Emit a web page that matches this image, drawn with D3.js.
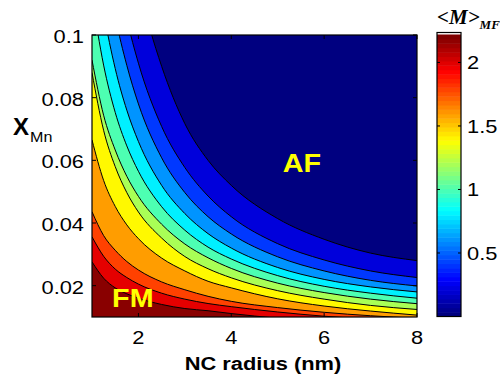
<!DOCTYPE html>
<html><head><meta charset="utf-8">
<script src="https://cdn.jsdelivr.net/npm/d3@7"></script>
<style>body{margin:0;background:#fff}svg{display:block}</style>
</head><body>
<svg id="c" width="500" height="380"></svg>
<script>
// ---- data ----
const radius = [1, 1.25, 1.5, 1.75, 2, 2.5, 3, 3.5, 4, 5, 6, 7, 8];          // NC radius (nm)
const levels = [0.2, 0.4, 0.6, 0.8, 1.0, 1.2, 1.4, 1.6, 1.8, 2.0, 2.2];       // <M>_MF contour levels
// x_Mn position of each contour at the radii above
const c02 = [0.23, 0.184, 0.1533, 0.1314, 0.1155, 0.09, 0.0717, 0.06, 0.052, 0.0414, 0.0348, 0.0304, 0.028];
const c04 = [0.185, 0.148, 0.1233, 0.1051, 0.091, 0.0708, 0.0577, 0.0486, 0.042, 0.0334, 0.0282, 0.0247, 0.0226];
const c06 = [0.16, 0.128, 0.106, 0.0903, 0.078, 0.0608, 0.0497, 0.042, 0.0365, 0.0292, 0.0247, 0.0217, 0.0199];
const c08 = [0.134, 0.1076, 0.0893, 0.076, 0.066, 0.052, 0.043, 0.0366, 0.032, 0.0258, 0.022, 0.0196, 0.018];
const c10 = [0.112, 0.0904, 0.0753, 0.0646, 0.0565, 0.0452, 0.0377, 0.0323, 0.0285, 0.0232, 0.0198, 0.0176, 0.016];
const c12 = [0.092, 0.0744, 0.0633, 0.0549, 0.0485, 0.0396, 0.0333, 0.0289, 0.0255, 0.0208, 0.0178, 0.0157, 0.01425];
const c14 = [0.088, 0.0696, 0.058, 0.0497, 0.0435, 0.0352, 0.0293, 0.0254, 0.0225, 0.0184, 0.0157, 0.0137, 0.0124];
const c16 = [0.0665, 0.0536, 0.0453, 0.0394, 0.035, 0.0288, 0.0247, 0.0214, 0.0193, 0.0158, 0.0135, 0.0119, 0.0106];
const c18 = [0.0436, 0.036, 0.0313, 0.0277, 0.025, 0.0212, 0.0187, 0.0166, 0.015, 0.013, 0.0115, 0.0104, 0.0096];
const c20 = [0.0356, 0.0294, 0.0253, 0.0226, 0.0205, 0.0176, 0.0157, 0.0143, 0.0133, 0.0116, 0.01025, 0.0093, 0.0085];
const c22 = [0.0276, 0.0224, 0.0193, 0.0174, 0.016, 0.014, 0.0127, 0.012, 0.0111, 0.0096, 0.0083, 0.0074, 0.0068];
const contours = [c02, c04, c06, c08, c10, c12, c14, c16, c18, c20, c22];
const xTicks = [2, 4, 6, 8];
const yTicks = [0.02, 0.04, 0.06, 0.08, 0.1];
const yTickLabels = ["0.02", "0.04", "0.06", "0.08", "0.1"];
const cbTicks = [0.5, 1, 1.5, 2];
const cbTickLabels = ["0.5", "1", "1.5", "2"];
const xDomain = [1, 8], yDomain = [0.01, 0.1], cDomain = [0, 2.22];
const regionLabels = [{t: "AF", r: 5.52, x: 0.0591}, {t: "FM", r: 1.88, x: 0.0162}];

// ---- drawing ----
const svg = d3.select("#c");
const L = 92, R = 417, T = 35, B = 317;
const xs = d3.scaleLinear().domain(xDomain).range([L, R]);
const ys = d3.scaleLinear().domain(yDomain).range([B, T]);
const cs = d3.scaleLinear().domain(cDomain).range([316.5, 34.5]);
function jet(t){
  const c = v => Math.max(0, Math.min(1, v));
  return d3.rgb(255*c(Math.min(4*t-1.5, -4*t+4.5)), 255*c(Math.min(4*t-0.5, -4*t+3.5)), 255*c(Math.min(4*t+0.5, -4*t+2.5))).toString();
}
const col = v => jet((v - cDomain[0]) / (cDomain[1] - cDomain[0]));

svg.append("clipPath").attr("id","pc").append("rect").attr("x",L).attr("y",T).attr("width",R-L).attr("height",B-T);
const g = svg.append("g").attr("clip-path","url(#pc)");
g.append("rect").attr("x",L).attr("y",T).attr("width",R-L).attr("height",B-T).attr("fill", col(0));
const area = d3.area().x(d=>xs(d[0])).y0(B+50).y1(d=>ys(d[1])).curve(d3.curveMonotoneX);
const line = d3.line().x(d=>xs(d[0])).y(d=>ys(d[1])).curve(d3.curveMonotoneX);
contours.forEach((cv,i)=>{
  const pts = radius.map((r,j)=>[r, cv[j]]);
  g.append("path").attr("d", area(pts)).attr("fill", col(levels[i]));
});
contours.forEach((cv,i)=>{
  const pts = radius.map((r,j)=>[r, cv[j]]);
  g.append("path").attr("d", line(pts)).attr("fill","none").attr("stroke","#000").attr("stroke-width",1);
});

function txt(x, y, s, o){
  o = o || {};
  const t = svg.append("text").attr("transform",`translate(${x},${y}) scale(${o.sx||1.15},1)`)
    .attr("text-anchor", o.anchor||"middle").attr("font-family", o.family||"'Liberation Sans', Arial, sans-serif")
    .attr("font-size", o.size||19).attr("font-weight", o.weight||"normal").attr("fill", o.fill||"#000")
    .attr("font-style", o.style||"normal").text(s);
  return t;
}
regionLabels.forEach(d=>txt(xs(d.r), ys(d.x)+9, d.t, {size:25, weight:"bold", fill:"#ffff00"}));

// frame and ticks
svg.append("rect").attr("x",L).attr("y",T).attr("width",R-L).attr("height",B-T).attr("fill","none").attr("stroke","#000").attr("stroke-width",1.2);
xTicks.forEach(v=>{
  svg.append("line").attr("x1",xs(v)).attr("x2",xs(v)).attr("y1",B).attr("y2",B-4).attr("stroke","#000");
  svg.append("line").attr("x1",xs(v)).attr("x2",xs(v)).attr("y1",T).attr("y2",T+4).attr("stroke","#000");
  txt(xs(v), 344, String(v));
});
yTicks.forEach((v,i)=>{
  svg.append("line").attr("x1",L).attr("x2",L+4).attr("y1",ys(v)).attr("y2",ys(v)).attr("stroke","#000");
  svg.append("line").attr("x1",R).attr("x2",R-4).attr("y1",ys(v)).attr("y2",ys(v)).attr("stroke","#000");
  txt(84, ys(v)+8, yTickLabels[i], {anchor:"end"});
});
txt(263, 370, "NC radius (nm)", {weight:"bold", size:19});
txt(13, 135, "X", {anchor:"start", weight:"bold", size:24, sx:1.0});
txt(30, 142, "Mn", {anchor:"start", size:14, sx:1.15});

// colorbar
const CL = 437, CR = 461, N = 64;
svg.append("rect").attr("x",CL).attr("y",32.5).attr("width",CR-CL).attr("height",cs(cDomain[1])-32.5).attr("fill","#fff");
d3.range(N).forEach(i=>{
  const v0 = cDomain[0] + (cDomain[1]-cDomain[0])*i/N, v1 = cDomain[0] + (cDomain[1]-cDomain[0])*(i+1)/N;
  svg.append("rect").attr("x",CL).attr("y",cs(v1)).attr("width",CR-CL).attr("height",cs(v0)-cs(v1)+0.5).attr("fill", jet(i/(N-1)));
});
svg.append("rect").attr("x",CL).attr("y",32.5).attr("width",CR-CL).attr("height",316.5-32.5).attr("fill","none").attr("stroke","#000").attr("stroke-width",1.2);
cbTicks.forEach((v,i)=>{
  svg.append("line").attr("x1",CL).attr("x2",CL+3).attr("y1",cs(v)).attr("y2",cs(v)).attr("stroke","#000");
  svg.append("line").attr("x1",CR).attr("x2",CR-3).attr("y1",cs(v)).attr("y2",cs(v)).attr("stroke","#000");
  txt(467, cs(v)+7, cbTickLabels[i], {anchor:"start"});
});
const ttl = svg.append("text").attr("x",437).attr("y",24).attr("font-family","'Liberation Serif', 'Times New Roman', serif")
  .attr("font-weight","bold").attr("font-style","italic").attr("font-size",21);
ttl.append("tspan").text("<M>");
ttl.append("tspan").attr("font-size",13).attr("dy",5).text("MF");
</script>
</body></html>
